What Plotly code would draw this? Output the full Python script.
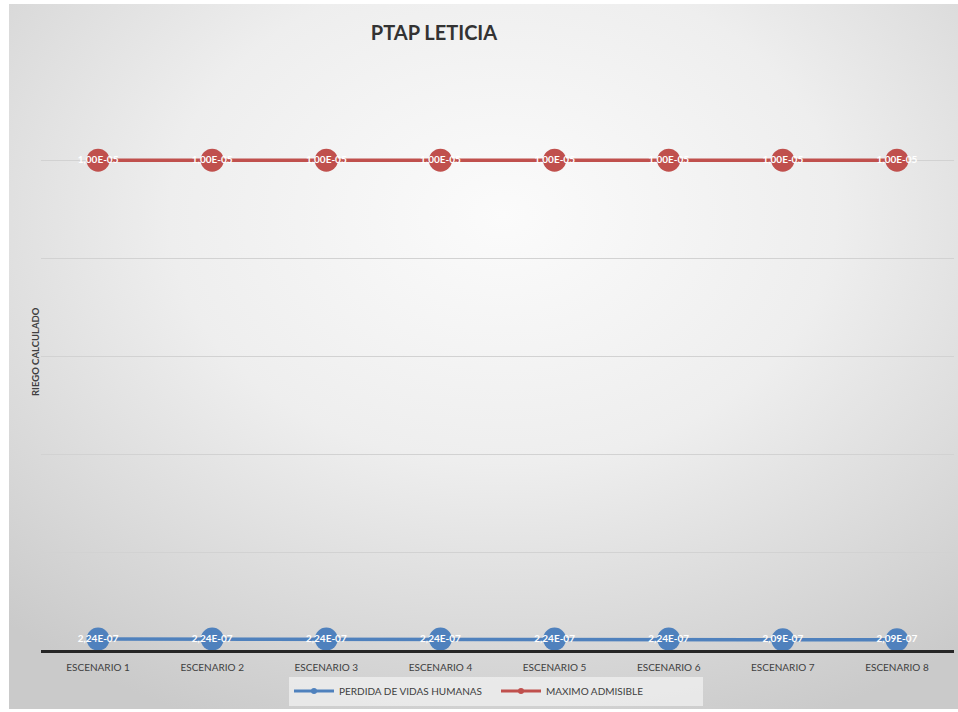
import base64
import plotly.graph_objects as go

categories = ["ESCENARIO 1", "ESCENARIO 2", "ESCENARIO 3", "ESCENARIO 4",
              "ESCENARIO 5", "ESCENARIO 6", "ESCENARIO 7", "ESCENARIO 8"]
perdida_vidas = [2.24e-07, 2.24e-07, 2.24e-07, 2.24e-07, 2.24e-07, 2.24e-07, 2.09e-07, 2.09e-07]
maximo_admisible = [1.00e-05] * 8
y_max = 1.2e-05
y_step = 2e-06

W, H = 958, 712
L, R, T, B = 41, 4, 62, 62
PW, PH = W - L - R, H - T - B


def fmt(v):
    return f"{v:.2E}".replace(".", ",")


def px_x(p):
    return (p - L) / PW


def px_y(p):
    return (H - B - p) / PH


BLUE = "#4F81BD"
RED = "#C0504D"

svg = (
    "<svg xmlns='http://www.w3.org/2000/svg' width='949' height='705' preserveAspectRatio='none'>"
    "<defs><radialGradient id='g' cx='0.52' cy='0.3' r='0.78'>"
    "<stop offset='0' stop-color='#fbfbfb'/>"
    "<stop offset='0.45' stop-color='#eeeeee'/>"
    "<stop offset='1' stop-color='#cacaca'/>"
    "</radialGradient></defs>"
    "<rect width='100%' height='100%' fill='url(#g)'/></svg>"
)
bg_src = "data:image/svg+xml;base64," + base64.b64encode(svg.encode()).decode()

fig = go.Figure()
fig.add_trace(go.Scatter(
    x=categories, y=perdida_vidas, mode="lines+markers+text",
    name="PERDIDA DE VIDAS HUMANAS", showlegend=False,
    line=dict(color=BLUE, width=3.5),
    marker=dict(color=BLUE, size=23),
    text=["<b>" + fmt(v) + "</b>" for v in perdida_vidas], textposition="middle center",
    textfont=dict(color="white", size=10, family="Lato"),
))
fig.add_trace(go.Scatter(
    x=categories, y=maximo_admisible, mode="lines+markers+text",
    name="MAXIMO ADMISIBLE", showlegend=False,
    line=dict(color=RED, width=3.5),
    marker=dict(color=RED, size=23),
    text=["<b>" + fmt(v) + "</b>" for v in maximo_admisible], textposition="middle center",
    textfont=dict(color="white", size=10, family="Lato"),
))
# legend entries with small markers
fig.add_trace(go.Scatter(x=[None], y=[None], mode="lines+markers",
                         name="PERDIDA DE VIDAS HUMANAS",
                         line=dict(color=BLUE, width=3), marker=dict(color=BLUE, size=6)))
fig.add_trace(go.Scatter(x=[None], y=[None], mode="lines+markers",
                         name="MAXIMO ADMISIBLE",
                         line=dict(color=RED, width=3), marker=dict(color=RED, size=6)))

fig.update_layout(
    width=W, height=H,
    margin=dict(l=L, r=R, t=T, b=B, autoexpand=False),
    paper_bgcolor="white",
    plot_bgcolor="rgba(0,0,0,0)",
    font=dict(family="Lato", color="#404040"),
    title=dict(text="<b>PTAP LETICIA</b>", x=434 / W, xanchor="center",
               y=1 - 33 / H, yanchor="middle",
               font=dict(size=20, color="#333333", family="Lato")),
    xaxis=dict(
        type="category", range=[-0.5, 7.5],
        showline=True, linecolor="#262626", linewidth=3,
        showgrid=False, ticks="", zeroline=False,
        ticklabelstandoff=6,
        tickfont=dict(size=10, color="#404040", family="Lato"),
    ),
    yaxis=dict(
        range=[0, y_max * 1.0005], dtick=y_step, tick0=0,
        showticklabels=False, ticks="",
        showgrid=True, gridcolor="#d2d2d2", gridwidth=1.3,
        zeroline=False, showline=False,
    ),
    legend=dict(
        orientation="h", x=px_x(496), xanchor="center",
        y=px_y(691), yanchor="middle",
        bgcolor="rgba(240,240,240,0.75)",
        font=dict(size=10, color="#404040", family="Lato"),
        itemwidth=40, tracegroupgap=0,
        entrywidth=152, entrywidthmode="pixels",
    ),
    images=[dict(
        source=bg_src, xref="paper", yref="paper",
        x=px_x(9), y=px_y(4), sizex=949 / PW, sizey=705 / PH,
        xanchor="left", yanchor="top", sizing="stretch", layer="below",
    )],
    annotations=[dict(
        text="<b>RIEGO CALCULADO</b>", textangle=-90,
        xref="paper", yref="paper", x=px_x(35), y=px_y(352),
        xanchor="center", yanchor="middle", showarrow=False,
        font=dict(size=9.5, color="#404040", family="Lato"),
    )],
)

fig.write_html("out.html", config={"displayModeBar": False},
               post_script="document.body.style.margin='0';document.body.style.overflow='hidden';")
